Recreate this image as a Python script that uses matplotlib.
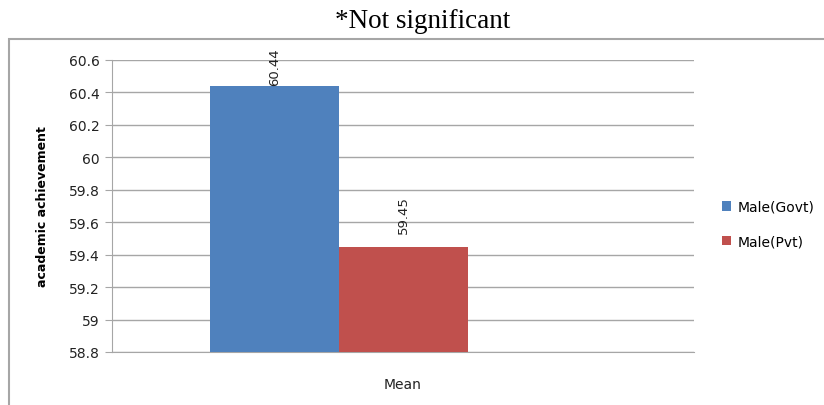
import numpy as np
import matplotlib.pyplot as plt
from matplotlib.patches import Rectangle

categories = ["Mean"]
series = ["Male(Govt)", "Male(Pvt)"]
values = [60.44, 59.45]
colors = ["#4F81BD", "#C0504D"]
yticks = [58.8, 59.0, 59.2, 59.4, 59.6, 59.8, 60.0, 60.2, 60.4, 60.6]

W, H = 824, 406
fig = plt.figure(figsize=(W / 100, H / 100), dpi=100)
plt.rcParams['font.family'] = ['DejaVu Sans']

# chart area frame
fig.patches.append(Rectangle((9 / W, -0.05), 1.0, (H - 40) / H + 0.05,
                             transform=fig.transFigure, fill=False,
                             edgecolor="#A6A6A6", linewidth=1.5))
fig.text(423 / W, 1 - 22 / H, "*Not significant", ha="center", va="center",
         fontsize=19.5, family="Liberation Serif")

ax = fig.add_axes([112 / W, 1 - 353 / H, (694 - 112) / W, (353 - 61) / H])

offsets = [-0.3316 + 0.1108, -0.11 + 0.1108]
width = 0.2216
label_gap = [1, 9.5]  # points above the bar top
for i in range(len(series)):
    ax.bar(offsets[i], values[i], width, bottom=0, color=colors[i],
           label=series[i], zorder=3)
    ax.annotate("%.2f" % values[i], (offsets[i], values[i]),
                xytext=(0, label_gap[i]), textcoords="offset points",
                rotation=90, ha="center", va="bottom", fontsize=9.5,
                color="#222222", zorder=4, annotation_clip=False)

ax.set_xlim(-0.5, 0.5)
ax.set_ylim(58.8, 60.6)
ax.set_yticks(yticks)
ax.set_yticklabels(["%g" % t for t in yticks], fontsize=10, color="#222222")
ax.set_xticks([0])
ax.set_xticklabels(categories, fontsize=10, color="#222222")
ax.tick_params(axis="x", length=0, pad=18)
ax.tick_params(axis="y", length=5, color="#A6A6A6", pad=4)
ax.yaxis.grid(True, color="#A6A6A6", linewidth=1, zorder=0)
for s in ["top", "right"]:
    ax.spines[s].set_visible(False)
for s in ["left", "bottom"]:
    ax.spines[s].set_color("#A6A6A6")
ax.set_ylabel("academic achievement", fontsize=9, fontweight="bold", labelpad=14)

ax.legend(loc="center left", bbox_to_anchor=(709 / W, 1 - 225 / H),
          bbox_transform=fig.transFigure, frameon=False, fontsize=10,
          handlelength=0.65, handleheight=0.65, handletextpad=0.5, labelspacing=1.45)

fig.savefig("out.png", dpi=100)
